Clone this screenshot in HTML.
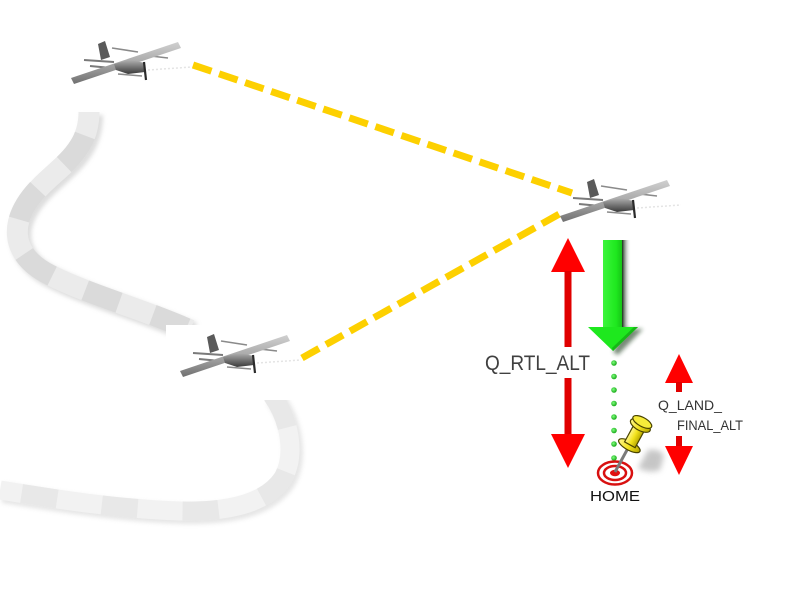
<!DOCTYPE html>
<html><head><meta charset="utf-8"><style>
html,body{margin:0;padding:0;background:#fff;}
svg{display:block;}
</style></head><body>
<svg width="800" height="600" viewBox="0 0 800 600" xmlns="http://www.w3.org/2000/svg">
<defs>
<filter id="blur2" x="-20%" y="-20%" width="140%" height="140%"><feGaussianBlur stdDeviation="2"/></filter>
<filter id="blur3" x="-50%" y="-50%" width="200%" height="200%"><feGaussianBlur stdDeviation="3"/></filter>
<linearGradient id="wingG" x1="0" y1="0" x2="0" y2="1"><stop offset="0" stop-color="#d0d0d0"/><stop offset="0.5" stop-color="#a8a8a8"/><stop offset="1" stop-color="#707070"/></linearGradient>
<linearGradient id="fusG" x1="0" y1="0" x2="0" y2="1"><stop offset="0" stop-color="#b0b0b0"/><stop offset="1" stop-color="#3a3a3a"/></linearGradient>
<linearGradient id="shadowG" x1="0" y1="0" x2="1" y2="0"><stop offset="0" stop-color="#122a12"/><stop offset="1" stop-color="#fff" stop-opacity="0"/></linearGradient>
<linearGradient id="greenG" x1="0" y1="0" x2="1" y2="0"><stop offset="0" stop-color="#3cf53c"/><stop offset="0.7" stop-color="#1ee81e"/><stop offset="1" stop-color="#17c417"/></linearGradient>
<radialGradient id="dotG" cx="0.4" cy="0.4" r="0.6"><stop offset="0" stop-color="#7dff7d"/><stop offset="1" stop-color="#18a818"/></radialGradient>
<linearGradient id="pinG" x1="0" y1="0" x2="1" y2="0"><stop offset="0" stop-color="#fff68a"/><stop offset="0.5" stop-color="#f2e21c"/><stop offset="1" stop-color="#b8a800"/></linearGradient>
<g id="plane">
  <line x1="148" y1="70" x2="192" y2="67" stroke="#e4e4e4" stroke-width="1.5" stroke-dasharray="2 2"/>
  <line x1="84" y1="60" x2="114" y2="62" stroke="#7a7a7a" stroke-width="2"/>
  <line x1="90" y1="66" x2="122" y2="69" stroke="#7a7a7a" stroke-width="2"/>
  <line x1="112" y1="48" x2="138" y2="52" stroke="#8a8a8a" stroke-width="1.6"/>
  <line x1="142" y1="55" x2="168" y2="58" stroke="#8a8a8a" stroke-width="1.6"/>
  <line x1="118" y1="74" x2="142" y2="76" stroke="#8a8a8a" stroke-width="1.6"/>
  <polygon points="98,44 105,41 110,57 101,60" fill="#5a5a5a"/>
  <polygon points="71,78 74,84 181,48 178,42" fill="url(#wingG)"/>
  <polygon points="114,64 130,60 145,63 145,72 128,74 116,70" fill="url(#fusG)"/>
  <line x1="144" y1="62" x2="146" y2="80" stroke="#2a2a2a" stroke-width="2.2"/>
</g>
</defs>

<rect width="800" height="600" fill="#fff"/>

<!-- track upper -->
<g fill="none" stroke-linecap="butt">
  <path d="M89 112 C89 150,62 165,42 185 C6 220,10 255,50 275 C90 295,140 308,190 330" stroke="#bcbcbc" stroke-width="22" transform="translate(3,3)" filter="url(#blur2)" opacity="0.5"/>
  <path d="M89 112 C89 150,62 165,42 185 C6 220,10 255,50 275 C90 295,140 308,190 330" stroke="#ebebeb" stroke-width="21"/>
  <path d="M89 112 C89 150,62 165,42 185 C6 220,10 255,50 275 C90 295,140 308,190 330" stroke="#dadada" stroke-width="21" stroke-dasharray="36 36" stroke-dashoffset="-24"/>
  <!-- track lower -->
  <path d="M272 395 C290 420,296 455,283 478 C265 505,225 512,180 511 C120 509,60 500,0 490" stroke="#c8c8c8" stroke-width="20" transform="translate(3,3)" filter="url(#blur2)" opacity="0.45"/>
  <path d="M272 395 C290 420,296 455,283 478 C265 505,225 512,180 511 C120 509,60 500,0 490" stroke="#f2f2f2" stroke-width="19"/>
  <path d="M272 395 C290 420,296 455,283 478 C265 505,225 512,180 511 C120 509,60 500,0 490" stroke="#e8e8e8" stroke-width="19" stroke-dasharray="36 45"/>
</g>

<!-- white box behind plane 3 -->
<rect x="166" y="325" width="140" height="75" fill="#fff"/>

<!-- dashed yellow lines -->
<line x1="193" y1="65" x2="572" y2="193" stroke="#fdd000" stroke-width="7" stroke-dasharray="19.5 8"/>
<line x1="302" y1="358" x2="563" y2="212" stroke="#fdd000" stroke-width="7" stroke-dasharray="19.5 8"/>

<!-- planes -->
<use href="#plane"/>
<use href="#plane" transform="translate(489,138)"/>
<use href="#plane" transform="translate(109,293)"/>

<!-- red Q_RTL_ALT arrow -->
<polygon points="551,272 585,272 568,238" fill="#ff0000"/>
<rect x="564.5" y="271" width="7" height="76" fill="#e00000"/>
<rect x="564.5" y="378" width="7" height="57" fill="#e00000"/>
<polygon points="551,434 585,434 568,468" fill="#ff0000"/>
<text x="485" y="370" font-family="Liberation Sans, sans-serif" font-size="21" fill="#404040" textLength="105" lengthAdjust="spacingAndGlyphs">Q_RTL_ALT</text>

<!-- green arrow -->
<rect x="622" y="240" width="9" height="88" fill="url(#shadowG)"/>
<polygon points="624,329 643,329 618,355 613,352" fill="#1a3a1a" opacity="0.6" filter="url(#blur2)"/>
<rect x="603" y="240" width="19" height="88" fill="url(#greenG)"/>
<polygon points="588,327 638,327 613,351" fill="#1ee81e"/>
<polygon points="613,351 638,327 634,327 612,348" fill="#16b816"/>

<!-- green dots -->
<g fill="url(#dotG)">
<circle cx="614" cy="363" r="2.8"/><circle cx="614" cy="376.5" r="2.8"/><circle cx="614" cy="390" r="2.8"/>
<circle cx="614" cy="403.5" r="2.8"/><circle cx="614" cy="417" r="2.8"/><circle cx="614" cy="430.5" r="2.8"/>
<circle cx="614" cy="444" r="2.8"/><circle cx="614" cy="458" r="2.8"/>
</g>

<!-- small red arrows -->
<polygon points="665,383 693,383 679,354" fill="#ff0000"/>
<rect x="676" y="382" width="6" height="10" fill="#e00000"/>
<rect x="676" y="436" width="6" height="11" fill="#e00000"/>
<polygon points="665,446 693,446 679,475" fill="#ff0000"/>
<text x="658" y="410" font-family="Liberation Sans, sans-serif" font-size="14" fill="#333" textLength="64" lengthAdjust="spacingAndGlyphs">Q_LAND_</text>
<text x="677" y="430" font-family="Liberation Sans, sans-serif" font-size="14" fill="#333" textLength="66" lengthAdjust="spacingAndGlyphs">FINAL_ALT</text>

<!-- pin shadow -->
<path d="M638 468 L648 450 Q660 448 664 456 L660 470 Q650 474 638 468 Z" fill="#bdbdbd" filter="url(#blur3)" opacity="0.85"/>

<!-- target -->
<ellipse cx="615" cy="473" rx="17" ry="11.5" fill="#fff" stroke="#d81010" stroke-width="2.5"/>
<ellipse cx="615" cy="473" rx="11" ry="7" fill="#fff" stroke="#d81010" stroke-width="2.5"/>
<ellipse cx="615" cy="473" rx="5" ry="3.2" fill="#e01010"/>

<!-- pin -->
<g transform="translate(615,472) rotate(28.6)">
  <line x1="0" y1="0" x2="0" y2="-28" stroke="#7a7a7a" stroke-width="3"/>
  <ellipse cx="0" cy="-30" rx="12" ry="4.5" fill="url(#pinG)" stroke="#4a4400" stroke-width="1.2"/>
  <rect x="-6" y="-51" width="12" height="20" fill="url(#pinG)" stroke="#4a4400" stroke-width="1.2"/>
  <ellipse cx="0" cy="-53" rx="11" ry="5" fill="url(#pinG)" stroke="#4a4400" stroke-width="1.2"/>
  <ellipse cx="0" cy="-57" rx="10.5" ry="4.5" fill="#f7ec3a" stroke="#4a4400" stroke-width="1.2"/>
</g>

<text x="590" y="501" font-family="Liberation Sans, sans-serif" font-size="14.5" fill="#111" textLength="50" lengthAdjust="spacingAndGlyphs">HOME</text>
</svg>
</body></html>
